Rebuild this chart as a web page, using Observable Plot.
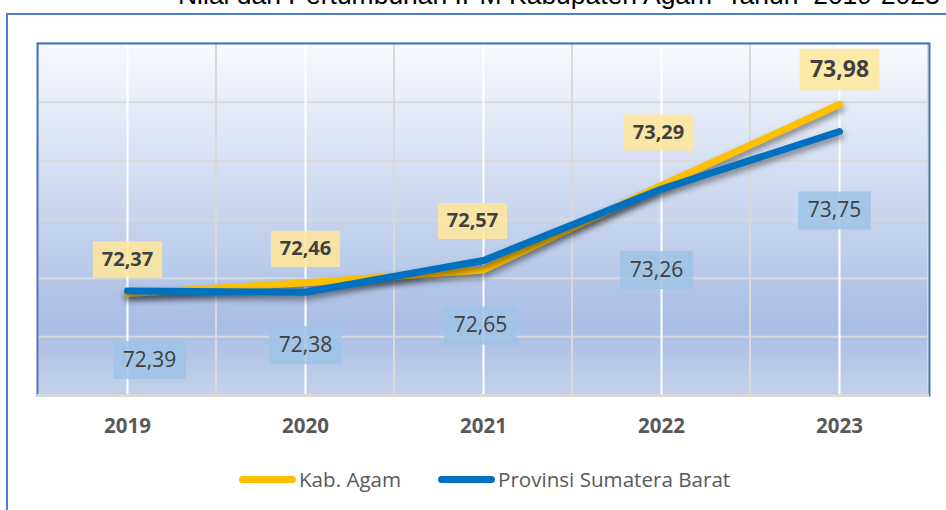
<!DOCTYPE html>
<html>
<head>
<meta charset="utf-8">
<script src="https://cdn.jsdelivr.net/npm/d3@7"></script>
<script src="https://cdn.jsdelivr.net/npm/@observablehq/plot@0.6"></script>
<style>
  html, body { margin: 0; padding: 0; width: 946px; height: 510px; overflow: hidden; background: #fff; }
  #page { position: relative; width: 946px; height: 510px; overflow: hidden; font-family: "Open Sans", sans-serif; }
  #title { position: absolute; left: 178px; top: -15px; white-space: pre; font-family: "Liberation Sans", Arial, sans-serif; font-size: 25px; line-height: 25px; color: #000; }
  #outer { position: absolute; left: 6px; top: 13px; width: 2000px; height: 2000px; border: 2px solid #4f7fd0; box-sizing: border-box; }
  #chart { position: absolute; left: 0; top: 0; }
  #chart svg g[aria-label^="x-axis"] text { font-weight: 700; fill: #595959; font-size: 20.5px; font-family: "Open Sans", sans-serif; }
  .leg { position: absolute; top: 465px; height: 28px; display: flex; align-items: center; font-size: 20.6px; color: #595959; font-family: "Open Sans", sans-serif; }
  .leg .sw { width: 57px; height: 7px; border-radius: 3.5px; margin-right: 3px; }
</style>
</head>
<body>
<div id="page">
  <svg width="0" height="0" style="position:absolute">
    <defs>
      <linearGradient id="bg" x1="0" y1="0" x2="0" y2="1">
        <stop offset="0" stop-color="#f7f9fd"/>
        <stop offset="0.8" stop-color="#a9bee5"/>
        <stop offset="1" stop-color="#c3d1eb"/>
      </linearGradient>
    </defs>
  </svg>
  <div id="title"></div>
  <div id="outer"></div>
  <div id="chart"></div>
  <div class="leg" id="leg1" style="left:239px"><span class="sw" style="background:#FFC000"></span><span id="legText1"></span></div>
  <div class="leg" id="leg2" style="left:438px"><span class="sw" style="background:#0070C0"></span><span id="legText2"></span></div>
</div>
<script>
// ---- data ----
const titleText = "Nilai dan Pertumbuhan IPM Kabupaten Agam  Tahun  2019-2023";
const years = ["2019", "2020", "2021", "2022", "2023"];
const agam = [72.37, 72.46, 72.57, 73.29, 73.98];
const sumbar = [72.39, 72.38, 72.65, 73.26, 73.75];
const seriesNames = ["Kab. Agam", "Provinsi Sumatera Barat"];
const yDomain = [71.5, 74.5];
const yGrid = [72, 72.5, 73, 73.5, 74];

// ---- label layout (pixel nudges relative to each point, and label sizes) ----
const agamDx = [0, 0, -11, -3, 0];
const agamDy = [-34, -34, -49, -53, -35];
const agamFont = [20, 20, 20, 20, 23];
const sumbarDx = [22, 0, -3, -5, -5];
const sumbarDy = [69, 53, 65, 81, 79];
const sumbarFont = [21, 21, 21, 21, 21];

const fmt = v => v.toFixed(2).replace(".", ",");
const rows = (vals) => years.map((y, i) => ({year: y, value: vals[i], i}));
const agamRows = rows(agam);
const sumbarRows = rows(sumbar);

document.getElementById("title").textContent = titleText;
document.getElementById("legText1").textContent = seriesNames[0];
document.getElementById("legText2").textContent = seriesNames[1];

const boxSymbol = (hw, hh) => ({draw(ctx) { ctx.moveTo(-hw, -hh); ctx.lineTo(hw, -hh); ctx.lineTo(hw, hh); ctx.lineTo(-hw, hh); ctx.closePath(); }});

function labelMarks(data, dxs, dys, sizes, boxFill, weight) {
  const marks = [];
  data.forEach((d, i) => {
    const k = sizes[i] / 20.5;
    marks.push(Plot.dot([d], {x: "year", y: "value", r: 5, symbol: boxSymbol(35.5 * k, 18.5 * k), fill: boxFill, fillOpacity: 0.85, stroke: "none", dx: dxs[i], dy: dys[i]}));
    marks.push(Plot.text([d], {x: "year", y: "value", text: r => fmt(r.value), dx: dxs[i], dy: dys[i], fill: "#404040", fontWeight: weight, fontSize: sizes[i], fontFamily: "Open Sans"}));
  });
  return marks;
}

const chart = Plot.plot({
  width: 946,
  height: 440,
  marginLeft: 37,
  marginRight: 17,
  marginTop: 43,
  marginBottom: 45,
  style: {fontFamily: "Open Sans", background: "transparent", overflow: "visible"},
  x: {type: "band", domain: years, padding: 0, tickSize: 0, tickPadding: 23, label: null},
  y: {domain: yDomain, axis: null},
  marks: [
    Plot.frame({fill: "url(#bg)", stroke: "none"}),
    Plot.ruleY(yGrid, {stroke: "#d9d9d9", strokeWidth: 2}),
    Plot.barY(years, {x: d => d, y1: yDomain[0], y2: yDomain[1], fill: "none", stroke: "#d9d9d9", strokeWidth: 2}),
    Plot.ruleX(years, {x: d => d, y1: yDomain[0], y2: yDomain[1], stroke: "#ffffff", strokeWidth: 2}),
    Plot.frame({stroke: "#4472C4", strokeWidth: 2}),
    Plot.ruleY([yDomain[0]], {stroke: "#d9d9d9", strokeWidth: 3}),
    Plot.line(agamRows, {x: "year", y: "value", stroke: "#FFC000", strokeWidth: 7, strokeLinecap: "round", strokeLinejoin: "round"}),
    Plot.line(sumbarRows, {x: "year", y: "value", stroke: "#0070C0", strokeWidth: 7, strokeLinecap: "round", strokeLinejoin: "round"}),
    ...labelMarks(agamRows, agamDx, agamDy, agamFont, "#FFE699", "bold"),
    ...labelMarks(sumbarRows, sumbarDx, sumbarDy, sumbarFont, "#9DC3E6", "normal")
  ]
});
document.getElementById("chart").appendChild(chart);
chart.querySelectorAll('g[aria-label="line"]').forEach(g => {
  g.style.filter = "drop-shadow(1px 4px 3px rgba(0,0,0,0.45))";
});

// fit title to its span in the reference
const t = document.getElementById("title");
const w = t.getBoundingClientRect().width;
const target = 762;
const fs = 25 * target / w;
t.style.fontSize = fs + "px";
t.style.lineHeight = fs + "px";
t.style.top = (5 - fs * 0.86) + "px";
</script>
</body>
</html>
